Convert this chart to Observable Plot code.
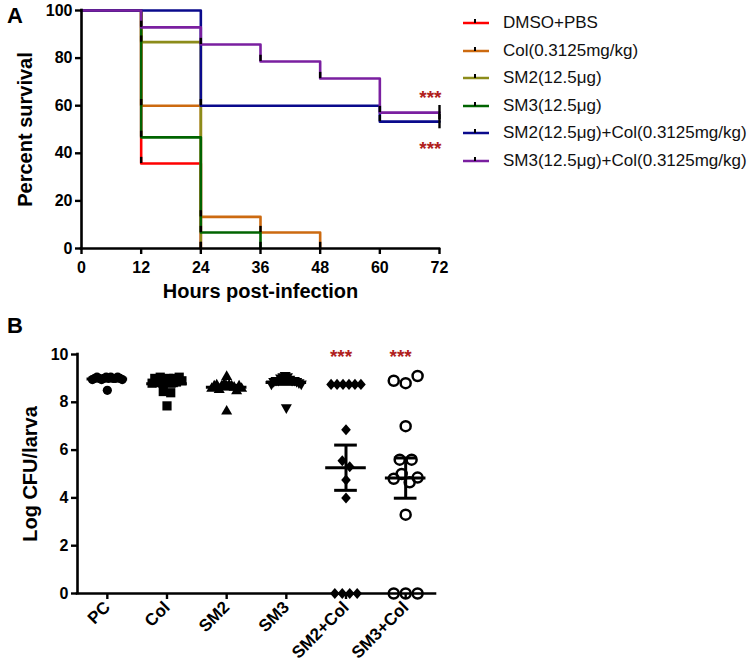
<!DOCTYPE html>
<html>
<head>
<meta charset="utf-8">
<script src="https://cdn.jsdelivr.net/npm/d3@7"></script>
<script src="https://cdn.jsdelivr.net/npm/@observablehq/plot@0.6"></script>
<style>
  body { margin: 0; background: #fff; font-family: Arial, "Liberation Sans", sans-serif; }
  #wrap { position: relative; width: 750px; height: 666px; overflow: hidden; background: #fff; }
  .panel-label { position: absolute; font-size: 22px; font-weight: bold; line-height: 22px; color: #000; }
  .leg-row { position: absolute; height: 16px; line-height: 16px; font-size: 17px; color: #111; white-space: nowrap; display: flex; align-items: center; }
  .leg-row svg { display: block; margin-right: 14px; }
</style>
</head>
<body>
<div id="wrap"></div>
<script>
// ---------- Panel A data ----------
const hours = [0, 12, 24, 36, 48, 60, 72];
const percentTicks = [0, 20, 40, 60, 80, 100];
const seriesNames = ["DMSO+PBS", "Col(0.3125mg/kg)", "SM2(12.5μg)", "SM3(12.5μg)",
  "SM2(12.5μg)+Col(0.3125mg/kg)", "SM3(12.5μg)+Col(0.3125mg/kg)"];
const seriesColors = ["#ff0000", "#cc6a10", "#8c8c1a", "#006400", "#0a0a8c", "#7a1fa0"];
const survDMSO   = [100, 35.7, 0, null, null, null, null];
const survCol    = [100, 60, 13.3, 6.7, 0, null, null];
const survSM2    = [100, 86.7, 0, null, null, null, null];
const survSM3    = [100, 46.7, 6.7, 0, null, null, null];
const survSM2Col = [100, 100, 60, 60, 60, 53.3, 53.3];
const survSM3Col = [100, 92.9, 85.7, 78.6, 71.4, 57.1, 57.1];
const sigLabel = "***";

// ---------- Panel B data ----------
const groups = ["PC", "Col", "SM2", "SM3", "SM2+Col", "SM3+Col"];
const logTicks = [0, 2, 4, 6, 8, 10];
const cfuPC     = [8.95, 9.0, 9.05, 9.0, 8.95, 9.0, 9.05, 9.0, 9.05, 9.0, 9.0, 9.05, 9.0, 8.95, 8.5];
const cfuCol    = [8.8, 9.0, 8.85, 9.05, 8.8, 8.45, 8.85, 9.0, 7.85, 8.4, 8.8, 9.0, 8.85, 9.05, 8.9];
const cfuSM2    = [8.6, 8.7, 8.75, 8.55, 8.7, 8.8, 8.7, 9.1, 8.75, 8.7, 8.65, 8.5, 8.7, 8.6, 7.65];
const cfuSM3    = [8.75, 8.85, 8.9, 8.9, 9.0, 9.05, 9.1, 9.05, 8.95, 8.9, 8.9, 8.85, 8.8, 8.75, 7.75];
const cfuSM2Col = [8.75, 8.75, 8.75, 8.75, 8.75, 8.75, 6.85, 5.55, 5.3, 4.75, 4.0, 0, 0, 0, 0];
const cfuSM3Col = [8.9, 8.8, 9.1, 7.0, 5.6, 5.6, 4.8, 5.0, 4.65, 4.85, 3.3, 0, 0, 0];
const sigGroups = ["SM2+Col", "SM3+Col"];

const FONT = 'Arial, "Liberation Sans", sans-serif';
const SIG_COLOR = "#b0201c";
const plotStyle = {fontFamily: FONT, color: "black", background: "transparent", overflow: "visible"};
const wrap = document.getElementById("wrap");

// ---------- Panel A ----------
const survAll = [survDMSO, survCol, survSM2, survSM3, survSM2Col, survSM3Col];
const survRows = [];
const tickRows = [];
survAll.forEach((arr, s) => {
  let last = -1;
  arr.forEach((v, i) => {
    if (v == null) return;
    survRows.push({series: seriesNames[s], t: hours[i], v});
    if (i > 0 && arr[i - 1] != null && v !== arr[i - 1]) tickRows.push({t: hours[i], lo: v, hi: v + 2.6});
    last = i;
  });
  if (last === hours.length - 1) {
    const v = arr[last];
    tickRows.push({t: hours[last], lo: v - 3, hi: v + 3});
  }
});
const endSM3Col = {t: hours[hours.length - 1], v: survSM3Col[survSM3Col.length - 1]};
const endSM2Col = {t: hours[hours.length - 1], v: survSM2Col[survSM2Col.length - 1]};

const plotA = Plot.plot({
  width: 460, height: 305,
  marginLeft: 81, marginRight: 21, marginTop: 10, marginBottom: 57,
  style: plotStyle,
  x: {domain: [0, 72]},
  y: {domain: [0, 100]},
  color: {domain: seriesNames, range: seriesColors},
  marks: [
    Plot.line(survRows, {x: "t", y: "v", z: "series", stroke: "series", curve: "step-after", strokeWidth: 2.6}),
    Plot.ruleX(tickRows, {x: "t", y1: "lo", y2: "hi", stroke: "black", strokeWidth: 2.4}),
    Plot.ruleY([0], {stroke: "black", strokeWidth: 2.6, strokeLinecap: "square"}),
    Plot.ruleX([0], {stroke: "black", strokeWidth: 2.6, strokeLinecap: "square"}),
    Plot.axisX({ticks: hours, tickSize: 6, tickPadding: 7, strokeWidth: 2.4, fontSize: 16, fontWeight: "bold", label: null}),
    Plot.axisY({ticks: percentTicks, tickSize: 6, tickPadding: 3, strokeWidth: 2.4, fontSize: 16, fontWeight: "bold", label: null}),
    Plot.text(["Hours post-infection"], {frameAnchor: "bottom", lineAnchor: "middle", dy: 43, fontSize: 20, fontWeight: "bold"}),
    Plot.text(["Percent survival"], {frameAnchor: "left", textAnchor: "middle", lineAnchor: "middle", rotate: -90, dx: -56, fontSize: 20, fontWeight: "bold"}),
    Plot.text([endSM3Col], {x: "t", y: "v", text: () => sigLabel, textAnchor: "end", dx: 2, dy: -15, fill: SIG_COLOR, fontSize: 19, fontWeight: "bold"}),
    Plot.text([endSM2Col], {x: "t", y: "v", text: () => sigLabel, textAnchor: "end", dx: 2, dy: 27, fill: SIG_COLOR, fontSize: 19, fontWeight: "bold"})
  ]
});
plotA.style.position = "absolute";
plotA.style.left = "0px";
plotA.style.top = "0px";
wrap.appendChild(plotA);

// Legend
const legendTop = [23, 50.6, 78.2, 105.8, 133.4, 161];
seriesNames.forEach((name, i) => {
  const row = document.createElement("div");
  row.className = "leg-row";
  row.style.left = "463px";
  row.style.top = (legendTop[i] - 8) + "px";
  row.innerHTML = `<svg width="26" height="16"><line x1="0" x2="26" y1="8" y2="8" stroke="${seriesColors[i]}" stroke-width="2.5"/><line x1="12" x2="12" y1="4" y2="8" stroke="black" stroke-width="2"/></svg><span></span>`;
  row.querySelector("span").textContent = name;
  wrap.appendChild(row);
});

// ---------- Panel B ----------
const cfuAll = [cfuPC, cfuCol, cfuSM2, cfuSM3, cfuSM2Col, cfuSM3Col];
function spreadGroup(vals, gi, step, maxWidth) {
  const items = vals.map((v, i) => ({v, i}));
  const sorted = items.slice().sort((a, b) => b.v - a.v || a.i - b.i);
  const rows = [];
  let prev = null;
  for (const it of sorted) {
    if (prev !== null && prev - it.v <= 0.25) rows[rows.length - 1].push(it);
    else rows.push([it]);
    prev = it.v;
  }
  for (const row of rows) {
    row.sort((a, b) => a.i - b.i);
    const n = row.length;
    const s = n > 1 ? Math.min(step, maxWidth / (n - 1)) : 0;
    row.forEach((it, k) => { it.off = (k - (n - 1) / 2) * s; });
  }
  return items.map(it => ({group: groups[gi], x: gi + it.off, y: it.v}));
}
const pointsB = cfuAll.map((vals, gi) => spreadGroup(vals, gi, gi === 5 ? 0.2 : 0.125, gi === 5 ? 0.4 : 0.5));
const statsB = cfuAll.map((vals, gi) => {
  const m = d3.mean(vals);
  const se = d3.deviation(vals) / Math.sqrt(vals.length);
  return {gi, m, lo: m - se, hi: m + se};
});

function polySymbol(pts) {
  return {
    draw(ctx, size) {
      const r = Math.sqrt(size / Math.PI);
      ctx.moveTo(pts[0][0] * r, pts[0][1] * r);
      for (let k = 1; k < pts.length; k++) ctx.lineTo(pts[k][0] * r, pts[k][1] * r);
      ctx.closePath();
    }
  };
}
const symSquare = polySymbol([[-1, -1], [1, -1], [1, 1], [-1, 1]]);
const symTriUp = polySymbol([[0, -1.25], [1.2, 0.85], [-1.2, 0.85]]);
const symTriDown = polySymbol([[0, 1.25], [1.2, -0.85], [-1.2, -0.85]]);
const symDiamond = polySymbol([[0, -1.2], [1.05, 0], [0, 1.2], [-1.05, 0]]);
const groupSymbols = [d3.symbolCircle, symSquare, symTriUp, symTriDown, symDiamond, d3.symbolCircle];

const dotMarks = pointsB.map((pts, gi) => gi === 5
  ? Plot.dot(pts, {x: "x", y: "y", r: 5, symbol: "circle", fill: "none", stroke: "black", strokeWidth: 2.5})
  : Plot.dot(pts, {x: "x", y: "y", r: 4.6, symbol: groupSymbols[gi], fill: "black", stroke: "none"}));

const plotB = Plot.plot({
  width: 450, height: 346,
  marginLeft: 77, marginRight: 15, marginTop: 34, marginBottom: 73,
  style: plotStyle,
  x: {domain: [-0.5, groups.length - 0.5]},
  y: {domain: [0, 10]},
  marks: [
    Plot.ruleY([0], {stroke: "black", strokeWidth: 2.6, strokeLinecap: "square"}),
    Plot.ruleX([-0.5], {stroke: "black", strokeWidth: 2.6, strokeLinecap: "square"}),
    ...dotMarks,
    Plot.ruleY(statsB, {y: "m", x1: d => d.gi - 0.34, x2: d => d.gi + 0.34, stroke: "black", strokeWidth: 3}),
    Plot.ruleX(statsB, {x: "gi", y1: "lo", y2: "hi", stroke: "black", strokeWidth: 3}),
    Plot.ruleY(statsB, {y: "hi", x1: d => d.gi - 0.19, x2: d => d.gi + 0.19, stroke: "black", strokeWidth: 3}),
    Plot.ruleY(statsB, {y: "lo", x1: d => d.gi - 0.19, x2: d => d.gi + 0.19, stroke: "black", strokeWidth: 3}),
    Plot.axisX({ticks: d3.range(groups.length), tickFormat: i => groups[i], tickRotate: -45, tickSize: 6, tickPadding: 5, strokeWidth: 2.4, fontSize: 17, fontWeight: "bold", label: null}),
    Plot.axisY({ticks: logTicks, tickSize: 6, tickPadding: 3, strokeWidth: 2.4, fontSize: 16, fontWeight: "bold", label: null}),
    Plot.text(["Log CFU/larva"], {frameAnchor: "left", textAnchor: "middle", lineAnchor: "middle", rotate: -90, dx: -47, fontSize: 20, fontWeight: "bold"}),
    Plot.text(sigGroups, {x: d => groups.indexOf(d), frameAnchor: "top", lineAnchor: "middle", textAnchor: "middle", text: () => sigLabel, dx: -5, dy: 2, fill: SIG_COLOR, fontSize: 19, fontWeight: "bold"})
  ]
});
plotB.style.position = "absolute";
plotB.style.left = "0px";
plotB.style.top = "320px";
wrap.appendChild(plotB);

// Panel letters
[["A", 7, 5], ["B", 7, 315]].forEach(([t, l, tp]) => {
  const d = document.createElement("div");
  d.className = "panel-label";
  d.style.left = l + "px";
  d.style.top = tp + "px";
  d.textContent = t;
  wrap.appendChild(d);
});
</script>
</body>
</html>
